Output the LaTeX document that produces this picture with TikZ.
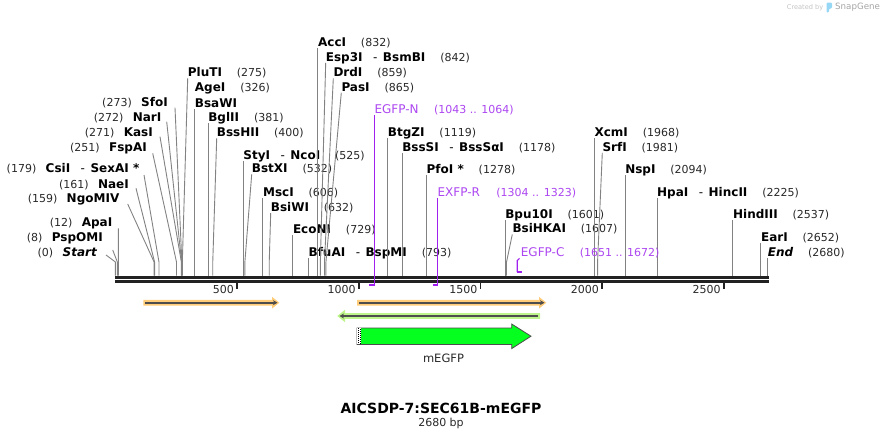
\documentclass[tikz,border=0pt]{standalone}
\usepackage{fontspec}
\setmainfont{DejaVu Sans}
\usetikzlibrary{arrows.meta}
\definecolor{cutgray}{RGB}{130,130,130}
\definecolor{rulerc}{RGB}{34,34,34}
\definecolor{primerc}{RGB}{160,32,240}
\definecolor{primert}{RGB}{172,70,240}
\definecolor{orangeband}{RGB}{255,204,122}
\definecolor{greenband}{RGB}{190,245,140}
\definecolor{featline}{RGB}{77,77,77}
\definecolor{megfp}{RGB}{5,255,30}
\definecolor{numc}{RGB}{40,40,40}
\definecolor{logoblue}{RGB}{150,215,245}
\newcommand{\bpx}[1]{115.4+0.2434*#1}
\newcommand{\enzdash}{\hspace{10.5pt}{\mdseries -}\hspace{5.5pt}}
% right-side label: id, x, y, content, number, bp
\newcommand{\renz}[6]{%
  \node[nm] (#1) at ({#2},#3) {#4};
  \node[nr] (#1-n) at ([xshift=14.5pt]#1.east) {(#5)};
  \coordinate (#1-r) at ({\bpx{#6}},275.7);
  \draw[cut] ([yshift=-1.5pt]#1.south west) -- ([yshift=13.7pt]#1-r) -- (#1-r);}
% left-side label: id, xend, y, content, number, bp, start x, start y
\newcommand{\lenz}[8]{%
  \node[nm, anchor=east] (#1) at (#2,#3) {#4};
  \node[nr, anchor=east] (#1-n) at ([xshift=-9pt]#1.west) {(#5)};
  \coordinate (#1-s) at (#7,#8);
  \coordinate (#1-r) at ({\bpx{#6}},275.7);
  \draw[cut] (#1-s) -- ([yshift=13.7pt]#1-r) -- (#1-r);}
\begin{document}
\begin{tikzpicture}[x=1pt,y=-1pt,
  nm/.style={inner sep=0pt, anchor=west, text height=8.75pt, text depth=0pt, font=\fontsize{12}{12}\selectfont\bfseries},
  nr/.style={inner sep=0pt, anchor=west, text height=8.75pt, text depth=0pt, font=\fontsize{11}{11}\selectfont, text=numc},
  pl/.style={inner sep=0pt, anchor=west, text height=8.75pt, text depth=0pt, font=\fontsize{12}{12}\selectfont, text=primert},
  pn/.style={inner sep=0pt, anchor=west, text height=8.75pt, text depth=0pt, font=\fontsize{11}{11}\selectfont, text=primert},
  cut/.style={draw=cutgray, line width=0.9pt},
  primer/.style={draw=primerc, line width=1.1pt},
  ruler/.style={draw=rulerc, line width=3pt},
  tickm/.style={draw=rulerc, line width=1.6pt},
  rl/.style={inner sep=0pt, anchor=east, font=\fontsize{11}{11}\selectfont, text=numc},
  featdark/.style={draw=featline, line width=1.6pt},
]
\useasboundingbox (0,0) rectangle (884,439);

% logo
\node[inner sep=0pt, anchor=west, font=\fontsize{6.6}{6.6}\selectfont, text={rgb,255:red,195;green,195;blue,195}] (created) at (786.7,7.5) {Created by};
\fill[logoblue, rounded corners=1.2pt] (826.5,2.5) -- (832,2.5) -- (832,8.5) -- (829,8.5) -- (829,12.5) -- (826.5,12.5) -- cycle;
\node[inner sep=0pt, anchor=west, font=\fontsize{8.7}{8.7}\selectfont, text={rgb,255:red,165;green,165;blue,165}] (snapgene) at (835,7.5) {SnapGene};

% ruler
\coordinate (rs1) at (115,277.2); \coordinate (re1) at (769,277.2);
\coordinate (rs2) at (115,281.5); \coordinate (re2) at (769,281.5);
\draw[ruler] (rs1) -- (re1);
\draw[ruler] (rs2) -- (re2);
\foreach \t in {500,1000,1500,2000,2500}{
  \coordinate (t\t) at ({\bpx{\t}},283);
  \draw[tickm] (t\t) -- ([yshift=-5.5pt]t\t);
  \node[rl] (tl\t) at ([xshift=-3pt,yshift=-6.3pt]t\t) {\t};
}

% left-side enzymes
\lenz{SfoI}{168}{102.3}{SfoI}{273}{273}{175}{107.7}
\lenz{NarI}{161.5}{117.3}{NarI}{272}{272}{166.7}{121.7}
\lenz{KasI}{153}{131.7}{KasI}{271}{271}{160}{136.7}
\lenz{FspAI}{147}{147.3}{FspAI}{251}{251}{152.7}{153.3}
\lenz{CsiI}{139.5}{168.3}{CsiI\enzdash SexAI *}{179}{179}{144}{175}
\lenz{NaeI}{129}{184}{NaeI}{161}{161}{136}{188.3}
\lenz{NgoMIV}{119.5}{198.3}{NgoMIV}{159}{159}{127.7}{204}
\lenz{ApaI}{112.5}{222.3}{ApaI}{12}{12}{118.3}{228.3}
\lenz{PspOMI}{103}{236.7}{PspOMI}{8}{8}{112.7}{250}
\lenz{Start}{97}{251.7}{\itshape Start}{0}{0}{106}{255}

% right-side enzymes
\renz{PluTI}{187.7}{72.3}{PluTI}{275}{275}
\node[nm] (AgeI) at ({\bpx{326}},87.3) {AgeI};
\node[nr] (AgeI-n) at ([xshift=14.5pt]AgeI.east) {(326)};
\node[nm] (BsaWI) at ({\bpx{326}},102.7) {BsaWI};
\coordinate (BsaWI-r) at ({\bpx{326}},275.7);
\draw[cut] ([yshift=-1.5pt]BsaWI.south west) -- (BsaWI-r);
\renz{BglII}{\bpx{381}}{117.3}{BglII}{381}{381}
\renz{BssHII}{216.7}{132.3}{BssHII}{400}{400}
\renz{StyI}{\bpx{525}}{154.7}{StyI\enzdash NcoI}{525}{525}
\renz{BstXI}{251.7}{168.3}{BstXI}{532}{532}
\renz{MscI}{\bpx{606}}{192.3}{MscI}{606}{606}
\renz{BsiWI}{270.7}{207}{BsiWI}{632}{632}
\renz{EcoNI}{\bpx{729}}{229}{EcoNI}{729}{729}
\renz{BfuAI}{\bpx{793}}{251.7}{BfuAI\enzdash BspMI}{793}{793}
\renz{AccI}{\bpx{832}}{42.3}{AccI}{832}{832}
\renz{Esp3I}{325.7}{56.7}{Esp3I\enzdash BsmBI}{842}{842}
\renz{DrdI}{333.3}{72.3}{DrdI}{859}{859}
\renz{PasI}{341.3}{86.7}{PasI}{865}{865}
\renz{BtgZI}{\bpx{1119}}{132.3}{BtgZI}{1119}{1119}
\renz{BssSI}{\bpx{1178}}{147.3}{BssSI\enzdash BssSαI}{1178}{1178}
\renz{PfoI}{\bpx{1278}}{169}{PfoI *}{1278}{1278}
\renz{Bpu10I}{\bpx{1601}}{214}{Bpu10I}{1601}{1601}
\renz{BsiHKAI}{512.3}{228.3}{BsiHKAI}{1607}{1607}
\renz{XcmI}{\bpx{1968}}{132.3}{XcmI}{1968}{1968}
\renz{SrfI}{602.3}{146.7}{SrfI}{1981}{1981}
\renz{NspI}{\bpx{2094}}{169.3}{NspI}{2094}{2094}
\renz{HpaI}{\bpx{2225}}{191.7}{HpaI\enzdash HincII}{2225}{2225}
\renz{HindIII}{\bpx{2537}}{214.3}{HindIII}{2537}{2537}
\renz{EarI}{\bpx{2652}}{236.7}{EarI}{2652}{2652}
\renz{End}{\bpx{2680}}{251.7}{\itshape End}{2680}{2680}

% primers
\node[pl] (egfpn) at ({\bpx{1064}},109) {EGFP-N};
\node[pn] (egfpn-n) at ([xshift=15pt]egfpn.east) {(1043 .. 1064)};
\coordinate (egfpn-a) at ({\bpx{1043}},285.3);
\coordinate (egfpn-b) at ({\bpx{1064}},285.3);
\draw[primer] ([yshift=-1.5pt]egfpn.south west) -- ([yshift=-1pt]egfpn-b);
\draw[primer, line width=2pt] (egfpn-a) -- (egfpn-b);

\node[pl] (exfpr) at ({\bpx{1323}},191.7) {EXFP-R};
\node[pn] (exfpr-n) at ([xshift=16pt]exfpr.east) {(1304 .. 1323)};
\coordinate (exfpr-a) at ({\bpx{1304}},285.3);
\coordinate (exfpr-b) at ({\bpx{1323}},285.3);
\draw[primer] ([yshift=-1.5pt]exfpr.south west) -- ([yshift=-1pt]exfpr-b);
\draw[primer, line width=2pt] (exfpr-a) -- (exfpr-b);

\node[pl] (egfpc) at (520.7,252.3) {EGFP-C};
\node[pn] (egfpc-n) at ([xshift=15pt]egfpc.east) {(1651 .. 1672)};
\coordinate (egfpc-a) at ({\bpx{1651}},272);
\coordinate (egfpc-b) at ({\bpx{1672}},272);
\draw[primer] ([xshift=-1.2pt,yshift=-1.5pt]egfpc.south west) -- ([yshift=11.5pt]egfpc-a) -- (egfpc-a);
\draw[primer, line width=1.6pt] (egfpc-a) -- (egfpc-b);

% features
\fill[orangeband] (143.3,299.9) -- (272,299.9) -- (272,296.8) -- (279.3,302.7) -- (272,308.6) -- (272,305.5) -- (143.3,305.5) -- cycle;
\draw[featdark, -{Stealth[length=4.5pt,width=5pt]}] (145,302.7) -- (277.5,302.7);
\fill[orangeband] (357,299.9) -- (539,299.9) -- (539,296.8) -- (546.3,302.7) -- (539,308.6) -- (539,305.5) -- (357,305.5) -- cycle;
\draw[featdark, -{Stealth[length=4.5pt,width=5pt]}] (359,302.7) -- (544.5,302.7);
\fill[greenband] (540,313.2) -- (345,313.2) -- (345,309.8) -- (337.3,316) -- (345,322.2) -- (345,318.8) -- (540,318.8) -- cycle;
\draw[featdark, -{Stealth[length=4.5pt,width=5pt]}] (538,316) -- (339.5,316);

\draw[fill=megfp, draw=featline, line width=0.8pt] (357,328) -- (511.7,328) -- (511.7,324) -- (531,336.2) -- (511.7,348.6) -- (511.7,344.4) -- (357,344.4) -- cycle;
\fill[white] (357.4,328.4) rectangle (361.4,344);
\draw[black, line width=0.9pt, dash pattern=on 1pt off 1pt] (358.2,328.4) -- (358.2,344);
\draw[black, line width=0.9pt, dash pattern=on 1pt off 1pt, dash phase=1pt] (360.2,328.4) -- (360.2,344);
\node[inner sep=0pt, font=\fontsize{11.5}{11.5}\selectfont, text=numc] (megfplabel) at (443.5,358) {mEGFP};

% title
\node[inner sep=0pt, font=\fontsize{14}{14}\selectfont\bfseries] (title) at (441,408) {AICSDP-7:SEC61B-mEGFP};
\node[inner sep=0pt, font=\fontsize{11}{11}\selectfont, text=numc] (bp) at (441,423) {2680 bp};
\end{tikzpicture}
\end{document}
